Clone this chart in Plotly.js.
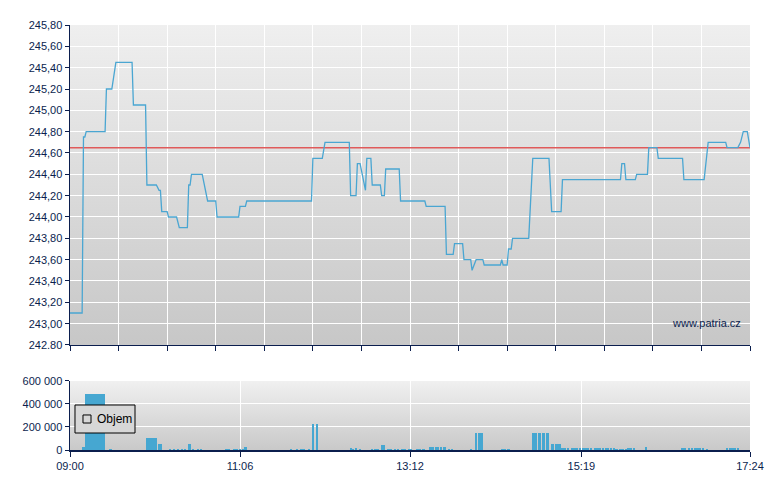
<!DOCTYPE html>
<html>
<head>
<meta charset="utf-8">
<script src="https://cdn.plot.ly/plotly-3.0.1.min.js"></script>
<style>html,body{margin:0;padding:0;background:#fff;}#chart{width:780px;height:490px;}</style>
</head>
<body>
<div id="chart"></div>
<script>
var DAY = '2024-01-15 ';

var priceTimes = [
 '09:00','09:09','09:10','09:11','09:12','09:26','09:27','09:31','09:34','09:46',
 '09:47','09:56','09:57','10:04','10:06','10:07','10:08','10:12','10:13','10:19',
 '10:21','10:27','10:28','10:29','10:30','10:38','10:42','10:48','10:49','11:05',
 '11:06','11:10','11:11','11:59','12:00','12:07','12:09','12:27','12:28','12:32',
 '12:33','12:35','12:39','12:40','12:43','12:44','12:50','12:51','12:53','12:54',
 '13:04','13:05','13:23','13:24','13:38','13:39','13:44','13:45','13:51','13:52',
 '13:57','13:58','14:01','14:06','14:07','14:19','14:20','14:21','14:24','14:25',
 '14:27','14:28','14:40','14:43','14:55','14:57','15:04','15:05','15:48','15:49',
 '15:51','15:52','15:59','16:00','16:08','16:09','16:15','16:16','16:34','16:35',
 '16:50','16:53','17:06','17:07','17:15','17:17','17:19','17:22','17:24'
];
var prices = [
 243.10,243.10,244.75,244.75,244.80,244.80,245.20,245.20,245.45,245.45,
 245.05,245.05,244.30,244.30,244.25,244.25,244.05,244.05,244.00,244.00,
 243.90,243.90,244.30,244.30,244.40,244.40,244.15,244.15,244.00,244.00,
 244.10,244.10,244.15,244.15,244.55,244.55,244.70,244.70,244.20,244.20,
 244.50,244.50,244.25,244.55,244.55,244.30,244.30,244.20,244.20,244.45,
 244.45,244.15,244.15,244.10,244.10,243.65,243.65,243.75,243.75,243.60,
 243.60,243.50,243.60,243.60,243.55,243.55,243.60,243.55,243.55,243.70,
 243.70,243.80,243.80,244.55,244.55,244.05,244.05,244.35,244.35,244.50,
 244.50,244.35,244.35,244.40,244.40,244.65,244.65,244.55,244.55,244.35,
 244.35,244.70,244.70,244.65,244.65,244.70,244.80,244.80,244.65
];
var prevClose = 244.65;

var volTimes = [
 '09:10',
 '09:12','09:13','09:14','09:15','09:16','09:17','09:18','09:19','09:20','09:21','09:22','09:23','09:24','09:25',
 '09:30',
 '09:57','09:58','09:59','10:00','10:01','10:02','10:03','10:04',
 '10:06','10:07',
 '10:14','10:17','10:20','10:23','10:25',
 '10:28','10:29',
 '10:31','10:35','10:37',
 '10:56','10:58','11:02','11:04','11:06','11:08',
 '11:10',
 '11:44','11:48','11:51','11:53','11:57',
 '12:00','12:03',
 '12:28','12:30','12:32','12:35',
 '12:44','12:46','12:48',
 '12:51','12:53',
 '12:56','12:58','13:01','13:03','13:06','13:08','13:11','13:13','13:17','13:19','13:22',
 '13:27','13:28','13:29','13:31','13:32','13:33','13:35','13:37','13:38',
 '13:41','13:43',
 '13:57',
 '14:01','14:03','14:04','14:05',
 '14:20','14:22','14:25',
 '14:43','14:45','14:48','14:51','14:54',
 '14:57','14:58','15:00','15:02','15:03',
 '15:05','15:07','15:09','15:12','15:14','15:16','15:18','15:20','15:22','15:24','15:26',
 '15:29','15:31','15:33','15:35','15:37','15:39','15:41','15:43',
 '15:45','15:48','15:50','15:52',
 '15:54','15:56','15:58',
 '16:07',
 '16:34','16:36','16:39','16:41','16:43','16:45','16:47','16:49','16:52',
 '17:07','17:09','17:11','17:13','17:15'
];
var volumes = [
 30000,
 490000,490000,490000,490000,490000,490000,490000,490000,490000,490000,490000,490000,490000,490000,
 10000,
 107000,107000,107000,107000,107000,107000,107000,107000,
 55000,55000,
 12000,12000,10000,12000,10000,
 52000,52000,
 8000,8000,8000,
 8000,8000,8000,8000,8000,10000,
 29000,
 8000,8000,10000,10000,8000,
 225000,225000,
 17000,12000,17000,10000,
 10000,10000,10000,
 43000,43000,
 8000,8000,8000,10000,8000,10000,8000,10000,8000,8000,8000,
 29000,29000,29000,29000,29000,29000,29000,29000,29000,
 10000,10000,
 10000,
 147000,147000,147000,147000,
 10000,10000,10000,
 147000,147000,147000,147000,147000,
 52000,52000,52000,52000,52000,
 17000,17000,17000,17000,17000,17000,17000,17000,17000,17000,17000,
 17000,17000,17000,17000,17000,17000,17000,17000,
 10000,10000,10000,10000,
 17000,17000,17000,
 26000,
 17000,17000,17000,17000,17000,17000,17000,17000,8000,
 17000,17000,17000,17000,17000
];

var dayStart = '09:00', dayEnd = '17:24';
var priceTickVals = [242.8,243.0,243.2,243.4,243.6,243.8,244.0,244.2,244.4,244.6,244.8,245.0,245.2,245.4,245.6,245.8];
var priceTickText = ['242.80','243,00','243,20','243,40','243,60','243,80','244,00','244,20','244,40','244,60','244,80','245,00','245,20','245,40','245,60','245,80'];
var volTickVals = [0,200000,400000,600000];
var volTickText = ['0','200 000','400 000','600 000'];
var timeTickLabels = ['09:00','11:06','13:12','15:19','17:24'];
var legendLabel = 'Objem';
var watermark = 'www.patria.cz';

function d(t){ return DAY + t; }

var NAVY = '#0b1e4e';
var LINE = '#4aa6d2';
var FONT = 'Liberation Sans, Arial, sans-serif';

function grad(top, bottom){
  var svg = '<svg xmlns="http://www.w3.org/2000/svg" width="100" height="100" preserveAspectRatio="none">' +
    '<defs><linearGradient id="g" x1="0" y1="0" x2="0" y2="1">' +
    '<stop offset="0" stop-color="' + top + '"/><stop offset="1" stop-color="' + bottom + '"/></linearGradient></defs>' +
    '<rect width="100" height="100" fill="url(#g)"/></svg>';
  return 'data:image/svg+xml;charset=utf-8,' + encodeURIComponent(svg);
}

var mainDom = [0.2471, 1];
var volDom = [0, 0.1624];

var traces = [
  {x: [d(dayStart), d(dayEnd)], y: [prevClose, prevClose], type: 'scatter', mode: 'lines',
   line: {color: '#e05a5a', width: 1.5}, xaxis: 'x', yaxis: 'y', hoverinfo: 'skip', showlegend: false},
  {x: priceTimes.map(d), y: prices, type: 'scatter', mode: 'lines',
   line: {color: LINE, width: 1.3}, xaxis: 'x', yaxis: 'y', showlegend: false},
  {x: volTimes.map(d), y: volumes, type: 'bar', width: 100000,
   marker: {color: '#46a7d1', line: {width: 0}}, xaxis: 'x2', yaxis: 'y2', showlegend: false}
];

var axisFont = {family: FONT, size: 11, color: NAVY};

var layout = {
  width: 780, height: 490,
  margin: {l: 70, r: 30, t: 25, b: 40},
  paper_bgcolor: '#ffffff',
  plot_bgcolor: 'rgba(0,0,0,0)',
  font: axisFont,
  showlegend: false,
  bargap: 0,
  xaxis: {
    type: 'date', domain: [0, 1], anchor: 'y',
    range: [d(dayStart), d(dayEnd)],
    tick0: d(dayStart), dtick: 36 * 60000,
    showticklabels: false,
    ticks: 'outside', ticklen: 5, tickcolor: NAVY, tickwidth: 1,
    showgrid: true, gridcolor: '#ffffff', gridwidth: 1,
    showline: true, linecolor: NAVY, linewidth: 1.5,
    zeroline: false, fixedrange: true
  },
  yaxis: {
    domain: mainDom, anchor: 'x',
    range: [242.8, 245.8],
    tickmode: 'array', tickvals: priceTickVals, ticktext: priceTickText,
    ticks: 'outside', ticklen: 4, tickcolor: NAVY, tickwidth: 1,
    showgrid: true, gridcolor: '#ffffff', gridwidth: 1,
    showline: true, linecolor: NAVY, linewidth: 1.5,
    zeroline: false, tickfont: axisFont
  },
  xaxis2: {
    type: 'date', domain: [0, 1], anchor: 'y2',
    range: [d(dayStart), d(dayEnd)],
    tickmode: 'array', tickvals: timeTickLabels.map(d), ticktext: timeTickLabels,
    ticks: 'outside', ticklen: 5, tickcolor: NAVY, tickwidth: 1,
    showgrid: true, gridcolor: '#ffffff', gridwidth: 1,
    showline: true, linecolor: NAVY, linewidth: 1.5,
    zeroline: false, tickfont: axisFont
  },
  yaxis2: {
    domain: volDom, anchor: 'x2',
    range: [0, 600000],
    tickmode: 'array', tickvals: volTickVals, ticktext: volTickText,
    ticks: 'outside', ticklen: 4, tickcolor: NAVY, tickwidth: 1,
    showgrid: true, gridcolor: '#ffffff', gridwidth: 1,
    showline: true, linecolor: NAVY, linewidth: 1.5,
    zeroline: false, tickfont: axisFont
  },
  images: [
    {source: grad('#efefef', '#c7c7c7'), xref: 'paper', yref: 'paper', x: 0, y: mainDom[1],
     sizex: 1, sizey: mainDom[1] - mainDom[0], xanchor: 'left', yanchor: 'top', sizing: 'stretch', layer: 'below'},
    {source: grad('#f0f0f0', '#c9c9c9'), xref: 'paper', yref: 'paper', x: 0, y: volDom[1],
     sizex: 1, sizey: volDom[1] - volDom[0], xanchor: 'left', yanchor: 'top', sizing: 'stretch', layer: 'below'}
  ],
  shapes: [
    {type: 'rect', xref: 'paper', yref: 'paper', x0: 0.00735, x1: 0.0956, y0: 0.04, y1: 0.1059,
     fillcolor: '#d7d7d7', line: {color: '#000000', width: 1}, layer: 'above'},
    {type: 'rect', xref: 'paper', yref: 'paper', x0: 0.0191, x1: 0.0309, y0: 0.0635, y1: 0.0824,
     fillcolor: 'rgba(0,0,0,0)', line: {color: '#000000', width: 1}, layer: 'above'}
  ],
  annotations: [
    {text: legendLabel, xref: 'paper', yref: 'paper', x: 0.0368, y: 0.0729, xanchor: 'left', yanchor: 'middle',
     showarrow: false, font: {family: FONT, size: 12, color: '#000000'}},
    {text: watermark, xref: 'paper', yref: 'paper', x: 0.99, y: 0.2988, xanchor: 'right', yanchor: 'middle',
     showarrow: false, font: {family: FONT, size: 11, color: NAVY}}
  ]
};

Plotly.newPlot('chart', traces, layout, {displayModeBar: false, staticPlot: true});
</script>
</body>
</html>
